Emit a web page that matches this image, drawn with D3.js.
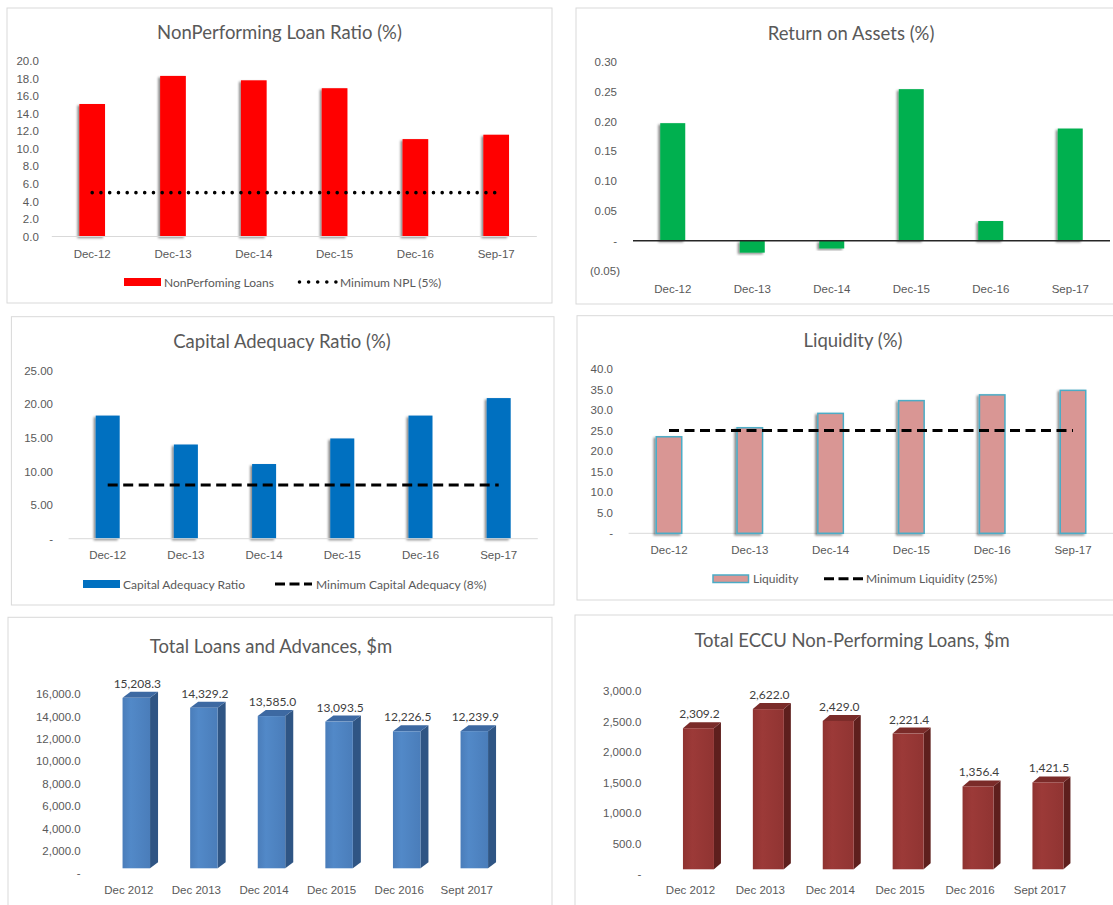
<!DOCTYPE html>
<html>
<head>
<meta charset="utf-8">
<script src="https://cdn.jsdelivr.net/npm/d3@7"></script>
<style>
  html, body { margin: 0; padding: 0; background: #fff; }
  svg { display: block; font-family: Lato, "Open Sans", sans-serif; }
  .tick text { fill: #595959; font-size: 11.5px; }
</style>
</head>
<body>
<svg id="chart" width="1113" height="905"></svg>
<script>
// ---- data ----
const periods = ["Dec-12", "Dec-13", "Dec-14", "Dec-15", "Dec-16", "Sep-17"];
const periodsLong = ["Dec 2012", "Dec 2013", "Dec 2014", "Dec 2015", "Dec 2016", "Sept 2017"];

const nplRatio = [15.1, 18.3, 17.8, 16.9, 11.1, 11.6];
const nplMinimum = 5;
const nplTicks = [0, 2, 4, 6, 8, 10, 12, 14, 16, 18, 20];

const roa = [0.197, -0.020, -0.013, 0.254, 0.033, 0.188];
const roaTicks = [-0.05, 0, 0.05, 0.10, 0.15, 0.20, 0.25, 0.30];

const capitalAdequacy = [18.3, 14.0, 11.1, 14.9, 18.3, 20.9];
const capitalMinimum = 8;
const capitalTicks = [0, 5, 10, 15, 20, 25];

const liquidity = [23.5, 25.7, 29.2, 32.3, 33.7, 34.8];
const liquidityMinimum = 25;
const liquidityTicks = [0, 5, 10, 15, 20, 25, 30, 35, 40];

const totalLoans = [15208.3, 14329.2, 13585.0, 13093.5, 12226.5, 12239.9];
const loansTicks = [0, 2000, 4000, 6000, 8000, 10000, 12000, 14000, 16000];

const eccuNpl = [2309.2, 2622.0, 2429.0, 2221.4, 1356.4, 1421.5];
const eccuTicks = [0, 500, 1000, 1500, 2000, 2500, 3000];

// ---- setup ----
const svg = d3.select("#chart");
const TXT = "#595959";

const defs = svg.append("defs");
const shadow = defs.append("filter").attr("id", "barShadow")
  .attr("x", "-50%").attr("y", "-10%").attr("width", "200%").attr("height", "130%");
shadow.append("feDropShadow").attr("dx", -2).attr("dy", 1.5)
  .attr("stdDeviation", 1.2).attr("flood-color", "#000").attr("flood-opacity", 0.45);

function frame(x, y, w, h) {
  svg.append("rect").attr("x", x).attr("y", y).attr("width", w).attr("height", h)
    .attr("fill", "#fff").attr("stroke", "#d9d9d9").attr("stroke-width", 1);
}
function title(text, cx, cy) {
  svg.append("text").attr("x", cx).attr("y", cy).attr("text-anchor", "middle")
    .attr("dominant-baseline", "central").attr("fill", TXT)
    .attr("font-size", 18.5).text(text);
}
function bandScale(domain, start, step, barW) {
  const p = 1 - barW / step;
  return d3.scaleBand().domain(domain).range([start, start + step * domain.length])
    .paddingInner(p).paddingOuter(p / 2);
}
function yAxis(scale, ticks, xPos, pad, fmt) {
  const g = svg.append("g").attr("transform", `translate(${xPos},0)`)
    .call(d3.axisLeft(scale).tickValues(ticks).tickSize(0).tickPadding(pad).tickFormat(fmt));
  g.select(".domain").remove();
  return g;
}
function xAxis(scale, yPos, pad) {
  const g = svg.append("g").attr("transform", `translate(0,${yPos})`)
    .call(d3.axisBottom(scale).tickSize(0).tickPadding(pad));
  g.select(".domain").remove();
  return g;
}
function baseline(x0, x1, y, color, w) {
  svg.append("line").attr("x1", x0).attr("x2", x1).attr("y1", y).attr("y2", y)
    .attr("stroke", color).attr("stroke-width", w);
}
function bars(values, x, y, fill, extra) {
  const sel = svg.append("g").selectAll("rect").data(values).join("rect")
    .attr("x", (d, i) => x(periods[i]))
    .attr("width", x.bandwidth())
    .attr("y", d => y(Math.max(0, d)))
    .attr("height", d => Math.abs(y(d) - y(0)))
    .attr("fill", fill)
    .attr("filter", "url(#barShadow)");
  if (extra) extra(sel);
  return sel;
}
function refLine(value, x, y, style) {
  const line = d3.line().x(c => x(c) + x.bandwidth() / 2).y(() => y(value));
  const p = svg.append("path").attr("d", line(periods)).attr("fill", "none")
    .attr("stroke", "#000").attr("stroke-width", 3);
  if (style === "dot") p.attr("stroke-width", 3.6).attr("stroke-dasharray", "0,8.75").attr("stroke-linecap", "round");
  else p.attr("stroke-dasharray", "10,5.5");
}
function legendText(x, y, text) {
  svg.append("text").attr("x", x).attr("y", y).attr("dominant-baseline", "central")
    .attr("fill", TXT).attr("font-size", 12).text(text);
}
function legendLine(x0, x1, y, style) {
  const l = svg.append("line").attr("x1", x0).attr("x2", x1).attr("y1", y).attr("y2", y)
    .attr("stroke", "#000").attr("stroke-width", 3);
  if (style === "dot") l.attr("stroke-width", 3.6).attr("stroke-dasharray", "0,9.1")
    .attr("stroke-linecap", "round").attr("x1", x0 + 1.5).attr("x2", x1 + 1);
  else l.attr("stroke-dasharray", "10,4.5");
}
const dashZero = (f) => (d => d === 0 ? "-" : f(d));

// ---- Panel 1: NonPerforming Loan Ratio ----
frame(7, 8, 545, 295);
title("NonPerforming Loan Ratio (%)", 279.5, 31.5);
{
  const x = bandScale(periods, 51.8, 80.8, 25.7);
  const y = d3.scaleLinear().domain([0, 20]).range([236.5, 61]);
  yAxis(y, nplTicks, 51.8, 13, d3.format(".1f"));
  bars(nplRatio, x, y, "#ff0000");
  baseline(51.8, 536.8, 236.5, "#d9d9d9", 1);
  xAxis(x, 236.5, 12.9);
  refLine(nplMinimum, x, y, "dot");
  svg.append("rect").attr("x", 124).attr("y", 278).attr("width", 37).attr("height", 8).attr("fill", "#ff0000");
  legendText(164, 282, "NonPerfoming Loans");
  legendLine(298, 336, 282, "dot");
  legendText(340, 282, "Minimum NPL (5%)");
}

// ---- Panel 2: Return on Assets ----
frame(576, 8, 560, 296);
title("Return on Assets (%)", 851, 32.5);
{
  const x = bandScale(periods, 633, 79.5, 25);
  const y = d3.scaleLinear().domain([0, 0.30]).range([240.7, 61.7]);
  const roaFmt = d => d === 0 ? "-" : d < 0 ? `(${d3.format(".2f")(-d)})` : d3.format(".2f")(d);
  const ya = yAxis(y, roaTicks, 633, 16, roaFmt);
  ya.selectAll(".tick").filter(d => d < 0).select("text").attr("dx", 3);
  bars(roa, x, y, "#00b050");
  baseline(633, 1110, y(0), "#262626", 1.5);
  xAxis(x, y(-0.05), 13.9);
}

// ---- Panel 3: Capital Adequacy Ratio ----
frame(11.4, 316.7, 542.6, 288.3);
title("Capital Adequacy Ratio (%)", 282, 340.5);
{
  const x = bandScale(periods, 68.6, 78.2, 24);
  const y = d3.scaleLinear().domain([0, 25]).range([538.7, 370.5]);
  yAxis(y, capitalTicks, 68.6, 15.6, dashZero(d3.format(".2f")));
  bars(capitalAdequacy, x, y, "#0070c0");
  baseline(68.6, 537.8, 538.7, "#d9d9d9", 1);
  xAxis(x, 538.7, 12.4);
  refLine(capitalMinimum, x, y, "dash");
  svg.append("rect").attr("x", 83).attr("y", 580).attr("width", 37).attr("height", 8).attr("fill", "#0070c0");
  legendText(123, 584, "Capital Adequacy Ratio");
  legendLine(275, 312, 584, "dash");
  legendText(316, 584, "Minimum Capital Adequacy (8%)");
}

// ---- Panel 4: Liquidity ----
frame(577, 315.7, 560, 284.3);
title("Liquidity (%)", 853, 340);
{
  const x = bandScale(periods, 628.6, 80.8, 25.5);
  const y = d3.scaleLinear().domain([0, 40]).range([533.3, 369]);
  yAxis(y, liquidityTicks, 628.6, 15.6, dashZero(d3.format(".1f")));
  baseline(628.6, 1113.6, 533.3, "#d9d9d9", 1);
  bars(liquidity, x, y, "#d99694", s => s.attr("stroke", "#4bacc6").attr("stroke-width", 1.5));
  xAxis(x, 533.3, 12.8);
  refLine(liquidityMinimum, x, y, "dash");
  svg.append("rect").attr("x", 713).attr("y", 575).attr("width", 35.5).attr("height", 7.5)
    .attr("fill", "#d99694").attr("stroke", "#4bacc6").attr("stroke-width", 1.5);
  legendText(753, 578.7, "Liquidity");
  legendLine(824, 863.6, 578.7, "dash");
  legendText(866, 578.7, "Minimum Liquidity (25%)");
}

// ---- 3D column helper ----
function columns3d(values, labels, x, y, opt) {
  const g = svg.append("g");
  const w = opt.width, dx = opt.dx, dy = opt.dy;
  values.forEach((v, i) => {
    const cx = x(labels[i]) + x.bandwidth() / 2 + opt.shift;
    const x0 = cx - w / 2, x1 = cx + w / 2;
    const top = y(v) - opt.lift, bot = y(0) - opt.lift;
    // side face
    g.append("path").attr("d", `M${x1},${top}L${x1 + dx},${top - dy}L${x1 + dx},${bot - dy}L${x1},${bot}Z`)
      .attr("fill", opt.side);
    // top face
    g.append("path").attr("d", `M${x0},${top}L${x0 + dx},${top - dy}L${x1 + dx},${top - dy}L${x1},${top}Z`)
      .attr("fill", opt.top);
    // front face
    g.append("rect").attr("x", x0).attr("y", top).attr("width", w).attr("height", bot - top)
      .attr("fill", `url(#${opt.grad})`);
    // value label
    g.append("text").attr("x", cx + 1).attr("y", top - 10).attr("text-anchor", "middle")
      .attr("fill", "#404040").attr("font-size", 12).text(d3.format(",.1f")(v));
  });
}
function frontGradient(id, stops) {
  const lg = defs.append("linearGradient").attr("id", id).attr("x1", "0").attr("x2", "1").attr("y1", "0").attr("y2", "0");
  stops.forEach(([o, c]) => lg.append("stop").attr("offset", o).attr("stop-color", c));
}
frontGradient("blueFront", [[0, "#4a7dba"], [0.3, "#5289c8"], [1, "#4a7dba"]]);
frontGradient("redFront", [[0, "#8f3331"], [0.3, "#9c3a38"], [1, "#903432"]]);

// ---- Panel 5: Total Loans and Advances ----
frame(8, 617.3, 544, 300);
title("Total Loans and Advances, $m", 271, 646);
{
  const x = d3.scaleBand().domain(periodsLong).range([95, 95 + 6 * 67.6]);
  const y = d3.scaleLinear().domain([0, 16000]).range([873.3, 694]);
  yAxis(y, loansTicks, 95, 14.3, dashZero(d3.format(",.1f")));
  xAxis(x, 873.3, 12.1);
  columns3d(totalLoans, periodsLong, x, y, {
    width: 27.5, dx: 8, dy: 6, shift: 7.5, lift: 5,
    top: "#3d69a2", side: "#2f5584", grad: "blueFront"
  });
}

// ---- Panel 6: Total ECCU Non-Performing Loans ----
frame(575, 615, 560, 300);
title("Total ECCU Non-Performing Loans, $m", 852, 640);
{
  const x = d3.scaleBand().domain(periodsLong).range([655.5, 655.5 + 6 * 69.9]);
  const y = d3.scaleLinear().domain([0, 3000]).range([874.3, 691]);
  yAxis(y, eccuTicks, 655.5, 14.1, dashZero(d3.format(",.1f")));
  xAxis(x, 874.3, 11.1);
  columns3d(eccuNpl, periodsLong, x, y, {
    width: 31, dx: 7, dy: 6, shift: 8, lift: 5,
    top: "#7a2b29", side: "#5e1f1d", grad: "redFront"
  });
}
</script>
</body>
</html>
